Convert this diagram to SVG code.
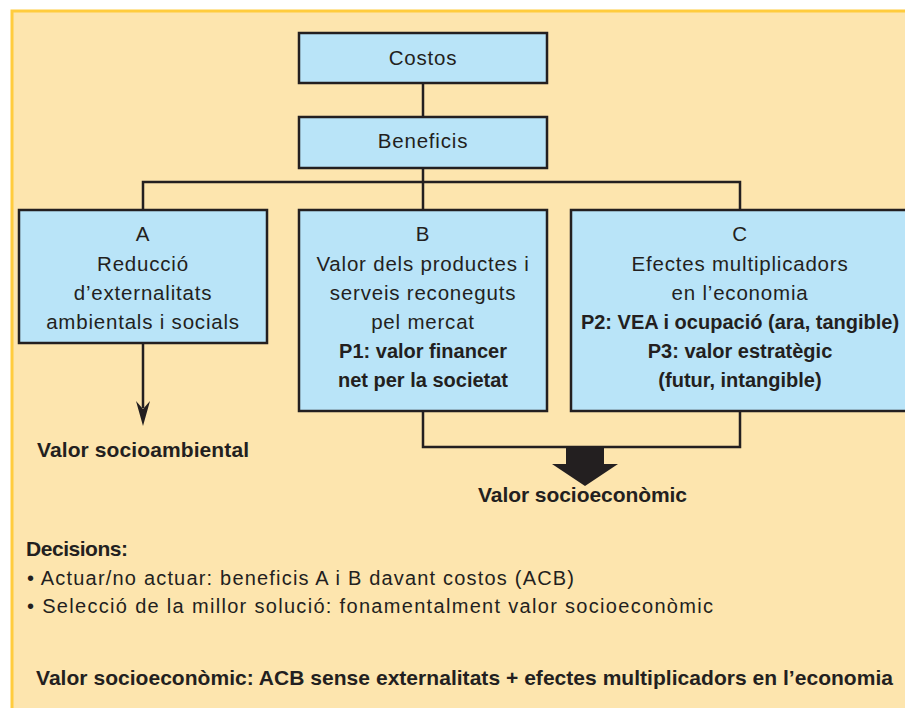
<svg xmlns="http://www.w3.org/2000/svg" width="905" height="708" viewBox="0 0 905 708">
<style>
.box{fill:#B9E4F8;stroke:#231F20;stroke-width:2.5}
.con{fill:none;stroke:#231F20;stroke-width:2.5}
.t{font-family:"Liberation Sans",Arial,sans-serif;font-size:20.5px;letter-spacing:0.8px;fill:#231F20;text-anchor:middle}
.b{font-family:"Liberation Sans",Arial,sans-serif;font-size:20px;font-weight:bold;fill:#231F20;text-anchor:middle}
.lb{font-family:"Liberation Sans",Arial,sans-serif;font-size:21px;font-weight:bold;fill:#231F20}
.lt{font-family:"Liberation Sans",Arial,sans-serif;font-size:20px;letter-spacing:1px;fill:#231F20}
</style>
<rect x="12" y="11" width="900" height="710" fill="#FDE5AE" stroke="#FFCC3D" stroke-width="3"/>
<g id="connectors">
<line class="con" x1="423" y1="83" x2="423" y2="117"/>
<line class="con" x1="423" y1="168" x2="423" y2="210"/>
<polyline class="con" points="143,210 143,182 740,182 740,210"/>
<line class="con" x1="143" y1="343" x2="143" y2="408"/>
<path d="M143,409 L136,401 L143,426 L150,401 Z" fill="#231F20"/>
<polyline class="con" points="423,411 423,447 740,447 740,411"/>
<path d="M566,447 L604,447 L604,464 L618,464 L585,486 L552,464 L566,464 Z" fill="#231F20"/>
</g>
<g id="costos">
<rect class="box" x="299" y="33" width="248" height="50"/>
<text class="t" x="423" y="65">Costos</text>
</g>
<g id="beneficis">
<rect class="box" x="299" y="117" width="248" height="51"/>
<text class="t" x="423" y="148">Beneficis</text>
</g>
<g id="nodeA">
<rect class="box" x="19" y="210" width="248" height="133"/>
<text class="t" x="143" y="241">A</text>
<text class="t" x="143" y="271">Reducció</text>
<text class="t" x="143" y="300">d’externalitats</text>
<text class="t" x="143" y="329">ambientals i socials</text>
</g>
<g id="nodeB">
<rect class="box" x="299" y="210" width="248" height="201"/>
<text class="t" x="423" y="241">B</text>
<text class="t" x="423" y="271">Valor dels productes i</text>
<text class="t" x="423" y="300">serveis reconeguts</text>
<text class="t" x="423" y="329">pel mercat</text>
<text class="b" x="423" y="358">P1: valor financer</text>
<text class="b" x="423" y="387">net per la societat</text>
</g>
<g id="nodeC">
<rect class="box" x="571" y="210" width="340" height="201"/>
<text class="t" x="740" y="241">C</text>
<text class="t" x="740" y="271">Efectes multiplicadors</text>
<text class="t" x="740" y="300">en l’economia</text>
<text class="b" x="740" y="329">P2: VEA i ocupació (ara, tangible)</text>
<text class="b" x="740" y="358">P3: valor estratègic</text>
<text class="b" x="740" y="387">(futur, intangible)</text>
</g>
<g id="labels">
<text class="lb" x="37" y="457" textLength="212">Valor socioambiental</text>
<text class="lb" x="478" y="502" textLength="209">Valor socioeconòmic</text>
<text class="lb" x="26" y="556" font-size="20" textLength="102">Decisions:</text>
<text class="lt" x="27" y="585" textLength="548">• Actuar/no actuar: beneficis A i B davant costos (ACB)</text>
<text class="lt" x="27" y="613" textLength="687">• Selecció de la millor solució: fonamentalment valor socioeconòmic</text>
<text class="lb" x="36" y="685" font-size="20" textLength="857">Valor socioeconòmic: ACB sense externalitats + efectes multiplicadors en l’economia</text>
</g>
</svg>
